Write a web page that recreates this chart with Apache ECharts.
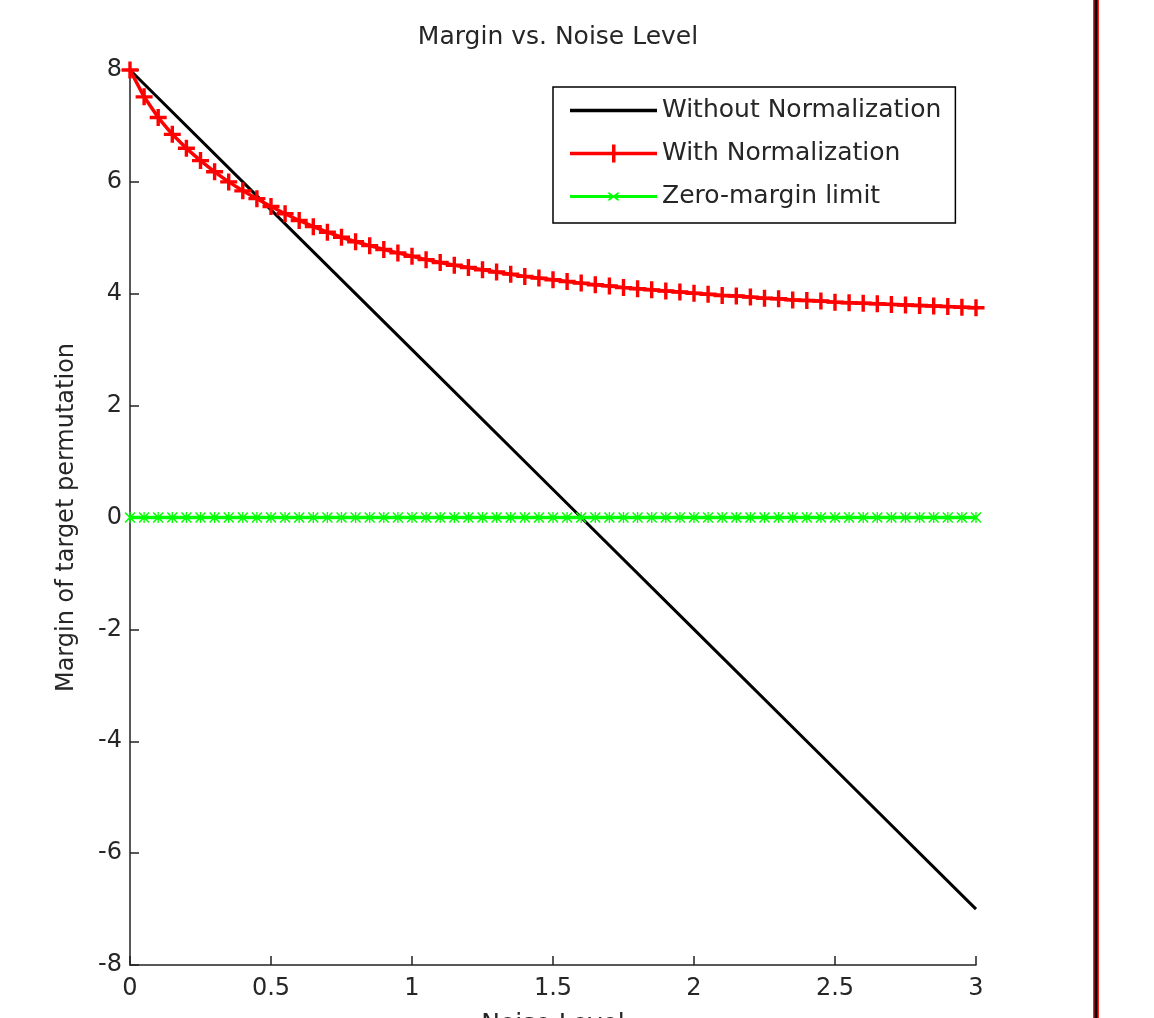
<!DOCTYPE html>
<html>
<head>
<meta charset="utf-8">
<title>Margin vs. Noise Level</title>
<script src="https://cdn.jsdelivr.net/npm/echarts@6/dist/echarts.min.js"></script>
<style>
  html, body { margin: 0; padding: 0; background: #fff; }
  #chart { width: 1154px; height: 1018px; }
</style>
</head>
<body>
<div id="chart"></div>
<script>
// noise levels (x), one point every 0.05
const noiseLevels = [
  0.00, 0.05, 0.10, 0.15, 0.20, 0.25, 0.30, 0.35, 0.40, 0.45,
  0.50, 0.55, 0.60, 0.65, 0.70, 0.75, 0.80, 0.85, 0.90, 0.95,
  1.00, 1.05, 1.10, 1.15, 1.20, 1.25, 1.30, 1.35, 1.40, 1.45,
  1.50, 1.55, 1.60, 1.65, 1.70, 1.75, 1.80, 1.85, 1.90, 1.95,
  2.00, 2.05, 2.10, 2.15, 2.20, 2.25, 2.30, 2.35, 2.40, 2.45,
  2.50, 2.55, 2.60, 2.65, 2.70, 2.75, 2.80, 2.85, 2.90, 2.95,
  3.00
];

// margin with normalization (red, + markers)
const withNorm = [
  8.00, 7.52, 7.15, 6.85, 6.60, 6.38, 6.18, 6.00, 5.84, 5.70,
  5.56, 5.43, 5.31, 5.20, 5.10, 5.01, 4.93, 4.86, 4.79, 4.73,
  4.67, 4.61, 4.56, 4.51, 4.47, 4.43, 4.39, 4.35, 4.31, 4.28,
  4.25, 4.22, 4.19, 4.16, 4.14, 4.11, 4.09, 4.07, 4.05, 4.03,
  4.01, 3.99, 3.97, 3.96, 3.94, 3.92, 3.91, 3.89, 3.88, 3.87,
  3.85, 3.84, 3.83, 3.82, 3.81, 3.80, 3.79, 3.78, 3.77, 3.76,
  3.75
];

// zero-margin limit (green, x markers)
const zeroLimit = [
  0, 0, 0, 0, 0, 0, 0, 0, 0, 0,
  0, 0, 0, 0, 0, 0, 0, 0, 0, 0,
  0, 0, 0, 0, 0, 0, 0, 0, 0, 0,
  0, 0, 0, 0, 0, 0, 0, 0, 0, 0,
  0, 0, 0, 0, 0, 0, 0, 0, 0, 0,
  0, 0, 0, 0, 0, 0, 0, 0, 0, 0,
  0
];

// margin without normalization (black, straight line)
const withoutNormX = [0, 0.5, 1, 1.5, 2, 2.5, 3];
const withoutNorm = [8, 5.5, 3, 0.5, -2, -4.5, -7];

const xTicks = [0, 0.5, 1, 1.5, 2, 2.5, 3];
const yTicks = [-8, -6, -4, -2, 0, 2, 4, 6, 8];

const FONT = 'DejaVu Sans';
const TEXT = '#262626';
const plusPath = 'path://M4,0H6V4H10V6H6V10H4V6H0V4H4Z';
const starPath = 'path://M0,1L1,0L5,4L9,0L10,1L6,5L10,9L9,10L5,6L1,10L0,9L4,5Z M4.4,0H5.6V10H4.4Z';

// legend icons: line sample with the series marker in the middle
const iconBlack = 'path://M0,0H87V3.5H0Z';
const iconRed = 'path://M0,7.2H42V0H45.5V7.2H87V10.8H45.5V18H42V10.8H0Z';
const iconGreen = 'path://M0,2.5H39.5L37.5,0H39.5L43.5,3L47.5,0H49.5L47.5,2.5H87V5.5H47.5L49.5,8H47.5L43.5,5L39.5,8H37.5L39.5,5.5H0Z';

const pair = (xs, ys) => xs.map((x, i) => [x, ys[i]]);

const chart = echarts.init(document.getElementById('chart'));

chart.setOption({
  backgroundColor: '#fff',
  animation: false,
  title: {
    text: 'Margin vs. Noise Level',
    left: 553,
    textAlign: 'center',
    top: 20,
    textStyle: { fontFamily: FONT, fontSize: 25, fontWeight: 'normal', color: TEXT }
  },
  legend: {
    orient: 'vertical',
    left: 553,
    top: 87,
    padding: [11, 14, 14, 17],
    itemWidth: 87,
    itemHeight: 18,
    itemGap: 18,
    symbolKeepAspect: true,
    borderColor: '#000',
    borderWidth: 1.5,
    borderRadius: 0,
    backgroundColor: '#fff',
    textStyle: { fontFamily: FONT, fontSize: 25, color: TEXT },
    data: [
      { name: 'Without Normalization', icon: iconBlack },
      { name: 'With Normalization', icon: iconRed },
      { name: 'Zero-margin limit', icon: iconGreen }
    ]
  },
  grid: { left: 130, right: 178, top: 70, bottom: 53, containLabel: false, outerBoundsMode: 'none' },
  xAxis: {
    type: 'value',
    min: xTicks[0],
    max: xTicks[xTicks.length - 1],
    interval: 0.5,
    name: 'Noise Level',
    nameLocation: 'middle',
    nameGap: 47,
    nameTextStyle: { fontFamily: FONT, fontSize: 25, color: TEXT },
    axisLine: { onZero: false, lineStyle: { color: '#222', width: 1.5 } },
    axisTick: { inside: true, length: 9, lineStyle: { color: '#222', width: 1.5 } },
    axisLabel: { margin: 12, fontFamily: FONT, fontSize: 24, color: TEXT },
    splitLine: { show: false }
  },
  yAxis: {
    type: 'value',
    min: yTicks[0],
    max: yTicks[yTicks.length - 1],
    interval: 2,
    name: 'Margin of target permutation',
    nameLocation: 'middle',
    nameGap: 51,
    nameTextStyle: { fontFamily: FONT, fontSize: 24, color: TEXT },
    axisLine: { onZero: false, lineStyle: { color: '#222', width: 1.5 } },
    axisTick: { inside: true, length: 9, lineStyle: { color: '#222', width: 1.5 } },
    axisLabel: { margin: 8, fontFamily: FONT, fontSize: 24, color: TEXT },
    splitLine: { show: false }
  },
  series: [
    {
      name: 'Without Normalization',
      type: 'line',
      data: pair(withoutNormX, withoutNorm),
      symbol: 'none',
      lineStyle: { color: '#000', width: 3 },
      itemStyle: { color: '#000' }
    },
    {
      name: 'With Normalization',
      type: 'line',
      data: pair(noiseLevels, withNorm),
      symbol: plusPath,
      symbolSize: 17,
      lineStyle: { color: '#ff0000', width: 3.5 },
      itemStyle: { color: '#ff0000' }
    },
    {
      name: 'Zero-margin limit',
      type: 'line',
      data: pair(noiseLevels, zeroLimit),
      symbol: starPath,
      symbolSize: 11,
      lineStyle: { color: '#00ff00', width: 3.5 },
      itemStyle: { color: '#00ff00' }
    }
  ],
  graphic: [
    { type: 'rect', shape: { x: 1093, y: 0, width: 6, height: 1018 }, style: { fill: '#ff2020' }, silent: true },
    { type: 'rect', shape: { x: 1094.5, y: 0, width: 3, height: 1018 }, style: { fill: '#000' }, silent: true }
  ]
});
</script>
</body>
</html>
